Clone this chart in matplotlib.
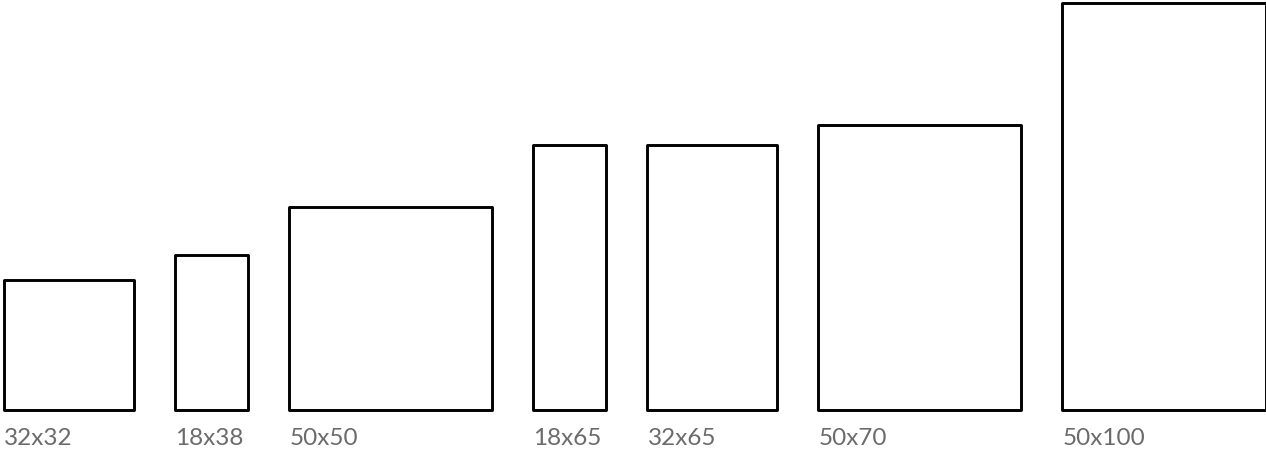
import matplotlib.pyplot as plt
from matplotlib.patches import Rectangle

labels = ['32x32', '18x38', '50x50', '18x65', '32x65', '50x70', '50x100']
widths = [32, 18, 50, 18, 32, 50, 50]
heights = [32, 38, 50, 65, 65, 70, 100]
gap = 10

fig = plt.figure(figsize=(12.66, 4.5), dpi=100)
ax = fig.add_axes([0, 0, 1, 1])

scale = 4.07  # px per unit
x = 0
for lab, w, h in zip(labels, widths, heights):
    ax.add_patch(Rectangle((x, 0), w, h, fill=False, edgecolor='black', linewidth=2.1, joinstyle='round'))
    ax.text(x + 0.1, -8.6, lab, ha='left', va='baseline', fontsize=17.5,
            family=['Lato', 'DejaVu Sans'], fontweight='normal', color='#6b6b6b')
    x += w + gap

ax.set_xlim(-4 / scale, (1266 - 4) / scale)
ax.set_ylim(-40 / scale, (450 - 40) / scale)
ax.axis('off')

fig.savefig('out.png', dpi=100)
